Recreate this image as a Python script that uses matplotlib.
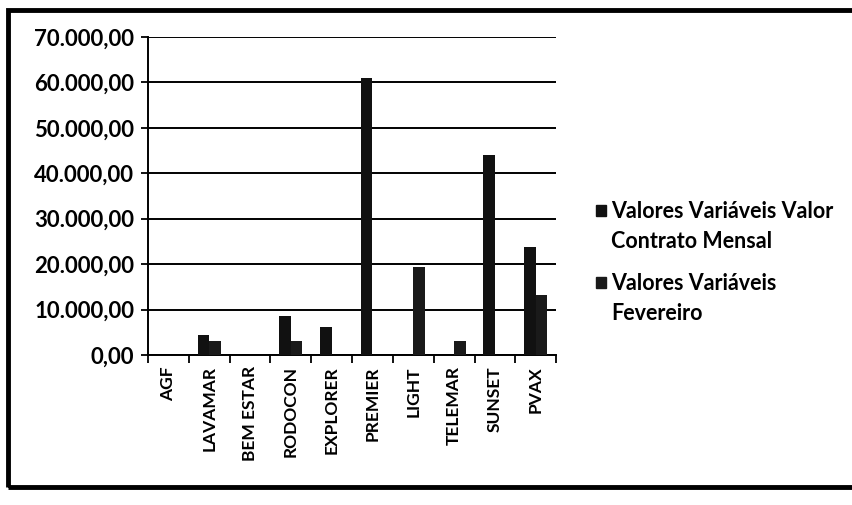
import matplotlib.pyplot as plt
import numpy as np
from matplotlib.patches import Rectangle
from matplotlib.ticker import FuncFormatter, FixedLocator

plt.rcParams['font.family'] = ['Lato', 'DejaVu Sans']
plt.rcParams['font.weight'] = 'bold'

empresas = ['AGF', 'LAVAMAR', 'BEM ESTAR', 'RODOCON', 'EXPLORER',
            'PREMIER', 'LIGHT', 'TELEMAR', 'SUNSET', 'PVAX']
contrato_mensal = [0, 4400, 0, 8600, 6200, 61000, 0, 0, 44000, 23800]
fevereiro = [0, 3100, 0, 3100, 0, 0, 19400, 3100, 0, 13200]
rotulos = ['Valores Variáveis Valor\nContrato Mensal',
           'Valores Variáveis\nFevereiro']
cores = ['#111111', '#1a1a1a']

W, H = 853, 505
fig = plt.figure(figsize=(W / 100, H / 100), dpi=100)
ax = fig.add_axes([0.1735, 0.297, 0.4785, 0.63])

x = np.arange(len(empresas))
w = 0.285
ax.bar(x - w / 2, contrato_mensal, w, color=cores[0], zorder=3)
ax.bar(x + w / 2, fevereiro, w, color=cores[1], zorder=3)

ax.set_xlim(-0.5, len(empresas) - 0.5)
ax.set_ylim(0, 70000)
ax.set_yticks(np.arange(0, 70001, 10000))
ax.yaxis.set_major_formatter(FuncFormatter(
    lambda v, p: f'{v:,.2f}'.replace(',', 'X').replace('.', ',').replace('X', '.')))
ax.grid(axis='y', color='black', linewidth=1.4, zorder=0)

ax.set_xticks(x)
ax.set_xticklabels(empresas, rotation=90, fontsize=12.5)
ax.xaxis.set_minor_locator(FixedLocator(np.arange(-0.5, len(empresas), 1)))
ax.tick_params(axis='x', which='major', length=0, pad=8)
ax.tick_params(axis='x', which='minor', length=6, width=1.3, direction='out')
ax.tick_params(axis='y', length=5, width=1.3, labelsize=16, pad=5)

for s in ['top', 'right']:
    ax.spines[s].set_visible(False)
ax.spines['left'].set_linewidth(1.4)
ax.spines['bottom'].set_linewidth(1.4)

# legenda manual (quadrado alinhado com a primeira linha, como no Excel)
for i, (rot, cor) in enumerate(zip(rotulos, cores)):
    ytop = 201 + i * 72
    fig.patches.append(Rectangle((596 / W, 1 - (ytop + 15) / H), 10 / W, 11 / H,
                                 transform=fig.transFigure, color=cor))
    fig.text(611 / W, 1 - ytop / H, rot, fontsize=15.5, va='top', ha='left',
             linespacing=1.5)

fig.patches.append(Rectangle((0.009, 0.035), 1.2, 0.945, transform=fig.transFigure,
                             fill=False, edgecolor='black', linewidth=3.5))

fig.savefig('out.png', dpi=100, facecolor='white')
